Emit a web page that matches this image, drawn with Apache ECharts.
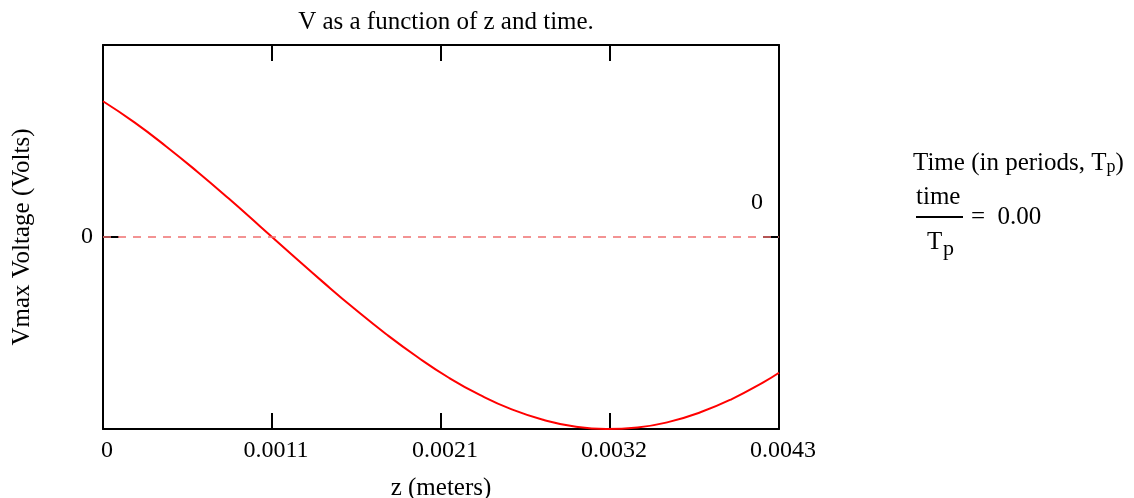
<!DOCTYPE html>
<html>
<head>
<meta charset="utf-8">
<script src="https://cdn.jsdelivr.net/npm/echarts@6/dist/echarts.min.js"></script>
<style>
html,body{margin:0;padding:0;background:#fff;}
#chart{width:1134px;height:498px;}
</style>
</head>
<body>
<div id="chart"></div>
<script>
// z positions (meters)
var zValues = [0, 0.0002, 0.0004, 0.0006, 0.0008, 0.0010, 0.0012, 0.0014, 0.0016, 0.0018, 0.0020, 0.0022,
               0.0024, 0.0026, 0.0028, 0.0030, 0.0032, 0.0034, 0.0036, 0.0038, 0.0040, 0.0042, 0.0043];
// voltage (relative to Vmax)
var voltValues = [0.707, 0.597, 0.473, 0.340, 0.200, 0.055, -0.091, -0.235, -0.374, -0.505, -0.625, -0.733,
                  -0.824, -0.898, -0.952, -0.987, -1.000, -0.992, -0.963, -0.913, -0.844, -0.757, -0.707];
var xTickLabels = ["0", "0.0011", "0.0021", "0.0032", "0.0043"];
var xMax = 0.0043;
var xStep = 0.001075;
var yMin = -1, yMax = 1;
var markerValue = 0;
var timeRatio = "0.00";

var FONT = "Liberation Serif";
var FS = 25;
var seriesData = zValues.map(function (z, i) { return [z, voltValues[i]]; });

var axisCommon = {
  axisLine: { show: true, onZero: false, lineStyle: { color: "#000", width: 2 } },
  axisTick: { show: true, inside: true, length: 16, lineStyle: { color: "#000", width: 2 } },
  splitLine: { show: false }
};

var chart = echarts.init(document.getElementById("chart"));
chart.setOption({
  animation: false,
  backgroundColor: "#fff",
  title: {
    text: "V as a function of z and time.",
    left: 441, top: 5, textAlign: "center",
    textStyle: { fontFamily: FONT, fontSize: FS, fontWeight: "normal", color: "#000" }
  },
  grid: { left: 103, right: 355, top: 45, bottom: 69, containLabel: false, outerBoundsMode: "none" },
  xAxis: [
    Object.assign({
      type: "value", position: "bottom", min: 0, max: xMax, interval: xStep,
      name: "z (meters)", nameLocation: "middle", nameGap: 47,
      nameTextStyle: { fontFamily: FONT, fontSize: FS, color: "#000" },
      axisLabel: {
        show: true, margin: 10, showMinLabel: true, showMaxLabel: true,
        fontFamily: FONT, fontSize: 24, color: "#000", padding: [0, 0, 0, 8],
        formatter: function (v) { var i = Math.round(v / xStep); return xTickLabels[i] || ""; }
      }
    }, axisCommon),
    Object.assign({
      type: "value", position: "top", min: 0, max: xMax, interval: xStep,
      axisLabel: { show: false }
    }, axisCommon)
  ],
  yAxis: [
    Object.assign({
      type: "value", position: "left", min: yMin, max: yMax, interval: 1,
      name: "Vmax Voltage (Volts)", nameLocation: "middle", nameGap: 68,
      nameTextStyle: { fontFamily: FONT, fontSize: FS, color: "#000" },
      axisLabel: {
        show: true, margin: 10, fontFamily: FONT, fontSize: 24, color: "#000",
        formatter: function (v) { return v === 0 ? "0" : ""; }
      }
    }, axisCommon),
    Object.assign({
      type: "value", position: "right", min: yMin, max: yMax, interval: 1,
      axisLabel: { show: false }
    }, axisCommon)
  ],
  series: [{
    type: "line",
    xAxisIndex: 0, yAxisIndex: 0,
    data: seriesData,
    smooth: true,
    showSymbol: false,
    clip: true,
    lineStyle: { color: "#ff0000", width: 2 },
    markLine: {
      silent: true,
      symbol: ["none", "none"],
      lineStyle: { color: "#f07070", type: [8, 7], width: 1.5 },
      label: {
        show: true, position: "insideEndTop", distance: [16, 22],
        formatter: String(markerValue),
        fontFamily: FONT, fontSize: 24, color: "#000"
      },
      data: [{ yAxis: markerValue }]
    }
  }],
  graphic: [
    {
      type: "text", left: 913, top: 146,
      style: {
        text: "{a|Time (in periods, T}{s|p}{a|)}",
        rich: {
          a: { fontFamily: FONT, fontSize: FS, color: "#000", lineHeight: 28, verticalAlign: "bottom" },
          s: { fontFamily: FONT, fontSize: 18, color: "#000", lineHeight: 28, padding: [12, 0, 0, 0], verticalAlign: "bottom" }
        }
      }
    },
    {
      type: "text", left: 916, top: 185,
      style: { text: "time", fontFamily: FONT, fontSize: FS, fill: "#000" }
    },
    {
      type: "line", shape: { x1: 916, y1: 217, x2: 963, y2: 217 },
      style: { stroke: "#000", lineWidth: 2 }
    },
    {
      type: "text", left: 927, top: 230,
      style: { text: "T", fontFamily: FONT, fontSize: FS, fill: "#000" }
    },
    {
      type: "text", left: 943, top: 238,
      style: { text: "p", fontFamily: FONT, fontSize: 22, fill: "#000" }
    },
    {
      type: "text", left: 971, top: 205,
      style: { text: "=  " + timeRatio, fontFamily: FONT, fontSize: FS, fill: "#000" }
    }
  ]
});
</script>
</body>
</html>
